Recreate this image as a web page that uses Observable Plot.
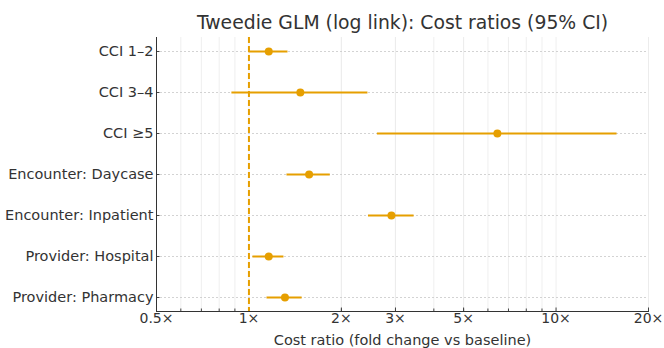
<!DOCTYPE html>
<html><head><meta charset="utf-8">
<script src="https://cdn.jsdelivr.net/npm/d3@7"></script>
<script src="https://cdn.jsdelivr.net/npm/@observablehq/plot@0.6"></script>
<style>body{margin:0;background:#fff}</style>
</head><body><div id="chart"></div>
<script>
const terms = ["CCI 1–2","CCI 3–4","CCI ≥5","Encounter: Daycase","Encounter: Inpatient","Provider: Hospital","Provider: Pharmacy"];
const ratio = [1.16, 1.47, 6.44, 1.57, 2.91, 1.16, 1.31];
const lower = [1.00, 0.88, 2.62, 1.33, 2.45, 1.03, 1.145];
const upper = [1.34, 2.44, 15.8, 1.84, 3.45, 1.30, 1.49];
const majorTicks = [0.5, 1, 2, 3, 5, 10, 20];
const minorTicks = [0.6,0.7,0.8,0.9,2,3,4,5,6,7,8,9,20];
const title = "Tweedie GLM (log link): Cost ratios (95% CI)";
const xLabel = "Cost ratio (fold change vs baseline)";

const data = terms.map((t,i)=>({term:t, est:ratio[i], lo:lower[i], hi:upper[i]}));
const orange = "#E69F00";
const font = "DejaVu Sans, sans-serif";

const chart = Plot.plot({
  width: 664, height: 348,
  marginLeft: 156, marginRight: 16, marginTop: 37, marginBottom: 37,
  style: {fontFamily: font, fontSize: "14.5px", color: "#333", background: "#fff"},
  x: {type: "log", domain: [0.5, 20]},
  y: {type: "point", domain: terms, padding: 0.3},
  marks: [
    Plot.ruleX([...majorTicks, ...minorTicks], {stroke: "#ebebeb", strokeWidth: 0.8}),
    Plot.ruleY(terms, {y: d => d, stroke: "#c8c8c8", strokeWidth: 0.8, strokeDasharray: "2,2"}),
    Plot.axisX({ticks: minorTicks, tickSize: -2.5, tickFormat: null, text: null, stroke: "#444", label: null}),
    Plot.axisX({ticks: majorTicks, tickSize: -3.5, tickPadding: 5, tickFormat: d => d + "×", label: null, fontSize: 14, fill: "#333", stroke: "#444"}),
    Plot.axisY({tickSize: -3.5, tickPadding: 6.5, label: null, fontSize: 14.5, fill: "#333", stroke: "#444"}),
    Plot.ruleX([0.5], {stroke: "#333", strokeWidth: 1}),
    Plot.frame({anchor: "bottom", stroke: "#333", strokeWidth: 1}),
    Plot.ruleX([1], {stroke: orange, strokeWidth: 2, strokeDasharray: "6,3"}),
    Plot.ruleY(data, {y: "term", x1: "lo", x2: "hi", stroke: orange, strokeWidth: 2}),
    Plot.dot(data, {y: "term", x: "est", fill: orange, r: 4}),
    Plot.text([title], {frameAnchor: "top", lineAnchor: "middle", dy: -15, fontSize: 18.8, fill: "#333", text: d => d}),
    Plot.text([xLabel], {frameAnchor: "bottom", lineAnchor: "middle", dy: 29, fontSize: 14.5, fill: "#333", text: d => d})
  ]
});
document.getElementById("chart").appendChild(chart);
</script>
</body></html>
